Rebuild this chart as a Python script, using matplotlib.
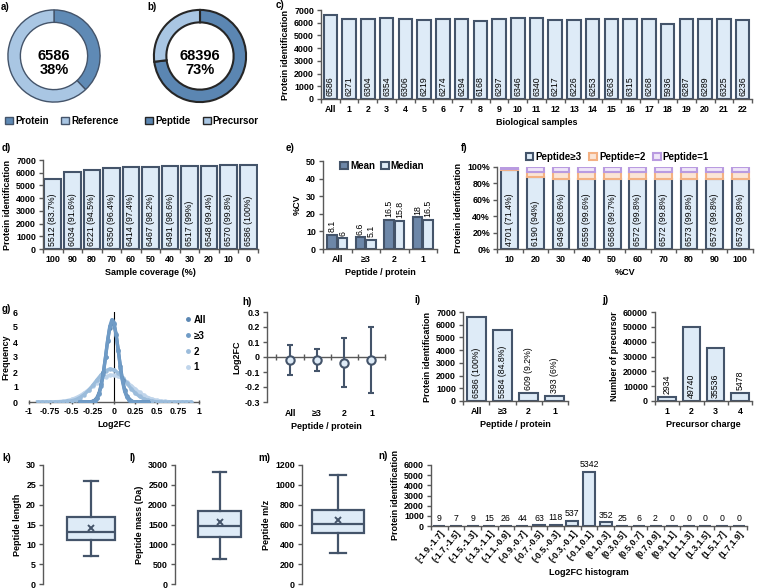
import numpy as np
import matplotlib
matplotlib.use("Agg")
import matplotlib.pyplot as plt
from matplotlib.patches import Patch
from matplotlib.lines import Line2D

plt.rcParams["font.family"] = ["Liberation Sans", "DejaVu Sans"]
plt.rcParams["font.weight"] = "bold"
plt.rcParams["axes.labelweight"] = "bold"
plt.rcParams["font.size"] = 6.5

# ---------------- data ----------------
donut_a_labels = ["Protein", "Reference"]
donut_a_values = [38, 62]
donut_a_total = "6586"
donut_b_labels = ["Peptide", "Precursor"]
donut_b_values = [73, 27]
donut_b_total = "68396"

samples = ["All"] + [str(i) for i in range(1, 23)]
sample_ids = [6586, 6271, 6304, 6354, 6306, 6219, 6274, 6294, 6168, 6297, 6346, 6340,
              6217, 6226, 6253, 6263, 6315, 6268, 5936, 6287, 6289, 6325, 6236]

coverage = ["100", "90", "80", "70", "60", "50", "40", "30", "20", "10", "0"]
coverage_ids = [5512, 6034, 6221, 6350, 6414, 6467, 6491, 6517, 6548, 6570, 6586]
coverage_pct = ["83.7%", "91.6%", "94.5%", "96.4%", "97.4%", "98.2%", "98.6%", "99%",
                "99.4%", "99.8%", "100%"]

pep_groups = ["All", "\u22653", "2", "1"]
cv_mean = [8.1, 6.6, 16.5, 18]
cv_median = [6, 5.1, 15.8, 16.5]

cv_bins = ["10", "20", "30", "40", "50", "60", "70", "80", "90", "100"]
cv_pep3 = [96.0, 87.5, 85.2, 84.9, 84.8, 84.8, 84.8, 84.8, 84.8, 84.8]
cv_pep2 = [1.8, 6.5, 8.8, 9.1, 9.2, 9.2, 9.2, 9.2, 9.2, 9.2]
cv_pep1 = [2.2, 6.0, 6.0, 6.0, 6.0, 6.0, 6.0, 6.0, 6.0, 6.0]
cv_counts = [4701, 6190, 6496, 6559, 6568, 6572, 6572, 6573, 6573, 6573]
cv_pct = ["71.4%", "94%", "98.6%", "99.6%", "99.7%", "99.8%", "99.8%", "99.8%", "99.8%", "99.8%"]

# g) Log2FC frequency curves
fc_x_narrow = [-0.4, -0.375, -0.35, -0.325, -0.3, -0.275, -0.25, -0.225, -0.2, -0.175, -0.15,
               -0.125, -0.1, -0.075, -0.05, -0.025, 0, 0.025, 0.05, 0.075, 0.1, 0.125, 0.15,
               0.175, 0.2, 0.225, 0.25, 0.275, 0.3, 0.325, 0.35, 0.375, 0.4]
fc_all = [0, 0, 0, 0, 0.01, 0.02, 0.05, 0.13, 0.30, 0.62, 1.17, 1.98, 3.00, 4.08, 4.94, 5.34,
          5.17, 4.47, 3.45, 2.38, 1.47, 0.82, 0.41, 0.18, 0.07, 0.03, 0.01, 0, 0, 0, 0, 0, 0]
fc_pep3 = [0, 0, 0, 0, 0, 0.01, 0.03, 0.10, 0.24, 0.54, 1.08, 1.90, 2.97, 4.11, 5.04, 5.49,
           5.29, 4.52, 3.43, 2.30, 1.37, 0.72, 0.34, 0.14, 0.05, 0.02, 0, 0, 0, 0, 0, 0, 0]
fc_x_wide = [-0.9, -0.85, -0.8, -0.75, -0.7, -0.65, -0.6, -0.55, -0.5, -0.45, -0.4, -0.35,
             -0.3, -0.25, -0.2, -0.15, -0.1, -0.05, 0, 0.05, 0.1, 0.15, 0.2, 0.25, 0.3, 0.35,
             0.4, 0.45, 0.5, 0.55, 0.6, 0.65, 0.7, 0.75, 0.8, 0.85, 0.9]
fc_pep2 = [0, 0, 0, 0, 0, 0.01, 0.02, 0.04, 0.08, 0.16, 0.30, 0.50, 0.77, 1.11, 1.48, 1.83,
           2.08, 2.20, 2.15, 1.94, 1.63, 1.26, 0.90, 0.60, 0.37, 0.21, 0.11, 0.05, 0.02, 0.01,
           0, 0, 0, 0, 0, 0, 0]
fc_pep1 = [0, 0, 0, 0.01, 0.02, 0.03, 0.06, 0.10, 0.17, 0.28, 0.42, 0.60, 0.81, 1.05, 1.30,
           1.52, 1.69, 1.78, 1.79, 1.71, 1.56, 1.34, 1.10, 0.86, 0.64, 0.45, 0.30, 0.19, 0.12,
           0.07, 0.04, 0.02, 0.01, 0, 0, 0, 0]

# h) Log2FC mean with range
fc_mean = [-0.02, -0.02, -0.04, -0.02]
fc_low = [-0.12, -0.09, -0.20, -0.24]
fc_high = [0.08, 0.055, 0.125, 0.20]

# i) / j)
pep_ids = [6586, 5584, 609, 393]
pep_pct = ["100%", "84.8%", "9.2%", "6%"]
charges = ["1", "2", "3", "4"]
precursors = [2934, 49740, 35536, 5478]

# k) l) m) box plots: whislo, q1, med, q3, whishi, mean
pep_length = [7, 11, 13, 17, 26, 14.2]
pep_mass = [620, 1190, 1470, 1850, 2820, 1570]
pep_mz = [315, 510, 610, 750, 1100, 650]

# n) Log2FC histogram
hist_bins = ["[-1.9,-1.7]", "(-1.7,-1.5]", "(-1.5,-1.3]", "(-1.3,-1.1]", "(-1.1,-0.9]",
             "(-0.9,-0.7]", "(-0.7,-0.5]", "(-0.5,-0.3]", "(-0.3,-0.1]", "(-0.1,0.1]",
             "(0.1,0.3]", "(0.3,0.5]", "(0.5,0.7]", "(0.7,0.9]", "(0.9,1.1]", "(1.1,1.3]",
             "(1.3,1.5]", "(1.5,1.7]", "(1.7,1.9]"]
hist_counts = [9, 7, 9, 15, 26, 44, 63, 118, 537, 5342, 352, 25, 6, 2, 0, 0, 0, 0, 0]

# ---------------- style ----------------
W, H = 760, 588
FILL = "#deebf7"
EDGE = "#44546a"
AXC = "#595959"
DARK = "#5f8ab5"
LIGHT = "#a9c6e3"
TICK_FS = 6.4
LAB_FS = 6.5
DATA_FS = 6.3
BAR_LW = 1.5


def px_axes(fig, left, top, right, bottom):
    return fig.add_axes([left / W, 1 - bottom / H, (right - left) / W, (bottom - top) / H])


def style(ax):
    for s in ("top", "right"):
        ax.spines[s].set_visible(False)
    for s in ("left", "bottom"):
        ax.spines[s].set_color(AXC)
        ax.spines[s].set_linewidth(1.0)
    ax.tick_params(labelsize=TICK_FS, color=AXC, length=3, width=1, pad=2)


def cat_axis(ax, labels):
    n = len(labels)
    ax.set_xlim(-0.5, n - 0.5)
    ax.set_xticks(range(n))
    ax.set_xticklabels(labels)
    ax.tick_params(axis="x", which="major", length=0, pad=4)
    ax.set_xticks(np.arange(n + 1) - 0.5, minor=True)
    ax.tick_params(axis="x", which="minor", length=3, color=AXC, width=1)


def base_label(ax, x, text):
    ax.annotate(text, (x, 0), xytext=(0, 2), textcoords="offset points", rotation=90,
                ha="center", va="bottom", fontsize=DATA_FS, fontweight="normal")


def top_label(ax, x, y, text, rotation=90):
    ax.annotate(text, (x, y), xytext=(0, 2), textcoords="offset points", rotation=rotation,
                ha="center", va="bottom", fontsize=DATA_FS, fontweight="normal")


def panel(fig, x, y, text):
    fig.text(x / W, 1 - y / H, text, fontsize=7, fontweight="bold", va="center")


fig = plt.figure(figsize=(7.6, 5.88), dpi=100)

# a) b) donuts
for box, vals, labels, total, cols, ec, lw, lx in [
        ((7, 9, 101, 103), donut_a_values, donut_a_labels, donut_a_total, [DARK, LIGHT], EDGE, 1.0, 62),
        ((153, 9, 247, 103), donut_b_values, donut_b_labels, donut_b_total, ["#5b86b2", LIGHT], "#262626", 1.5, 202)]:
    ax = px_axes(fig, *box)
    ax.pie(vals, colors=cols, startangle=90, counterclock=False, radius=1,
           wedgeprops=dict(width=0.27, edgecolor=ec, linewidth=lw))
    ax.set_xlim(-1.02, 1.02)
    ax.set_ylim(-1.02, 1.02)
    ax.text(0, 0.0, total, ha="center", va="center", fontsize=10.5, fontweight="bold")
    ax.text(0, -0.3, f"{vals[0]}%", ha="center", va="center", fontsize=10.5, fontweight="bold")
    handles = [Patch(facecolor=c, edgecolor=ec, linewidth=1) for c in cols]
    fig.legend(handles, labels, loc="center", bbox_to_anchor=(lx / W, 1 - 121 / H), ncol=2,
               frameon=False, fontsize=7, handlelength=0.8, handleheight=0.8,
               handletextpad=0.2, columnspacing=1.3)
panel(fig, 1, 7, "a)")
panel(fig, 147, 7, "b)")

# c) biological samples
ax = px_axes(fig, 321, 10, 752, 99)
style(ax)
ax.bar(range(len(sample_ids)), sample_ids, width=0.72, color=FILL, edgecolor=EDGE, linewidth=BAR_LW)
for i, v in enumerate(sample_ids):
    base_label(ax, i, str(v))
cat_axis(ax, samples)
ax.set_ylim(0, 7000)
ax.set_yticks(range(0, 7001, 1000))
ax.set_ylabel("Protein identification", fontsize=LAB_FS, labelpad=3)
ax.set_xlabel("Biological samples", fontsize=LAB_FS, labelpad=3)
panel(fig, 276, 5, "c)")

# d) sample coverage
ax = px_axes(fig, 43, 160, 258, 249)
style(ax)
ax.bar(range(len(coverage_ids)), coverage_ids, width=0.85, color=FILL, edgecolor=EDGE, linewidth=BAR_LW)
for i, (v, p) in enumerate(zip(coverage_ids, coverage_pct)):
    base_label(ax, i, f"{v} ({p})")
cat_axis(ax, coverage)
ax.set_ylim(0, 7000)
ax.set_yticks(range(0, 7001, 1000))
ax.set_ylabel("Protein identification", fontsize=LAB_FS, labelpad=3)
ax.set_xlabel("Sample coverage (%)", fontsize=LAB_FS, labelpad=3)
panel(fig, 2, 148, "d)")

# e) %CV mean / median
ax = px_axes(fig, 323, 161, 437, 249)
style(ax)
xs = np.arange(len(pep_groups))
ax.bar(xs - 0.19, cv_mean, width=0.33, color="#6d87a8", edgecolor=EDGE, linewidth=BAR_LW, label="Mean")
ax.bar(xs + 0.19, cv_median, width=0.33, color=FILL, edgecolor=EDGE, linewidth=BAR_LW, label="Median")
for i in range(len(pep_groups)):
    top_label(ax, i - 0.19, cv_mean[i], f"{cv_mean[i]:g}")
    top_label(ax, i + 0.19, cv_median[i], f"{cv_median[i]:g}")
cat_axis(ax, pep_groups)
ax.set_ylim(0, 50)
ax.set_yticks(range(0, 51, 10))
ax.set_ylabel("%CV", fontsize=LAB_FS, labelpad=3)
ax.set_xlabel("Peptide / protein", fontsize=LAB_FS, labelpad=3)
ax.legend(loc="upper center", bbox_to_anchor=(0.52, 1.1), ncol=2, frameon=False, fontsize=7,
          handlelength=0.8, handleheight=0.8, handletextpad=0.2, columnspacing=0.6)
panel(fig, 286, 148, "e)")

# f) %CV stacked
ax = px_axes(fig, 497, 167, 753, 249)
style(ax)
xs = np.arange(len(cv_bins))
ax.bar(xs, cv_pep3, width=0.65, color=FILL, edgecolor=EDGE, linewidth=BAR_LW, label="Peptide\u22653")
ax.bar(xs, cv_pep2, width=0.65, bottom=cv_pep3, color="#fbe5d6", edgecolor="#f4b183",
       linewidth=BAR_LW, label="Peptide=2")
ax.bar(xs, cv_pep1, width=0.65, bottom=np.add(cv_pep3, cv_pep2), color="#efe6f8",
       edgecolor="#b99be0", linewidth=BAR_LW, label="Peptide=1")
for i, (v, p) in enumerate(zip(cv_counts, cv_pct)):
    base_label(ax, i, f"{v} ({p})")
cat_axis(ax, cv_bins)
ax.set_ylim(0, 100)
ax.set_yticks(range(0, 101, 20))
ax.set_yticklabels([f"{v}%" for v in range(0, 101, 20)])
ax.set_ylabel("Protein identification", fontsize=LAB_FS, labelpad=3)
ax.set_xlabel("%CV", fontsize=LAB_FS, labelpad=3)
ax.legend(loc="lower center", bbox_to_anchor=(0.47, 1.0), ncol=3, frameon=False, fontsize=7,
          handlelength=0.8, handleheight=0.8, handletextpad=0.2, columnspacing=0.8,
          borderaxespad=0.1)
panel(fig, 461, 148, "f)")

# g) Log2FC frequency
ax = px_axes(fig, 29, 312, 199, 402)
style(ax)
ax.spines["left"].set_visible(False)
ax.axvline(0, color="black", lw=0.8, zorder=1)
g_colors = {"All": "#5b87b3", "\u22653": "#6f9bc6", "2": "#9bbcdb", "1": "#c0d5eb"}
ax.plot(fc_x_wide, fc_pep1, color=g_colors["1"], lw=2.4, marker="o", ms=2.2, zorder=2)
ax.plot(fc_x_wide, fc_pep2, color=g_colors["2"], lw=2.4, marker="o", ms=2.2, zorder=3)
ax.plot(fc_x_narrow, fc_all, color=g_colors["All"], lw=2.4, marker="o", ms=2.2, zorder=4)
ax.plot(fc_x_narrow, fc_pep3, color=g_colors["\u22653"], lw=2.4, marker="o", ms=2.2, zorder=5)
ax.set_xlim(-1, 1)
ax.set_ylim(0, 6)
gx = [-1, -0.75, -0.5, -0.25, 0, 0.25, 0.5, 0.75, 1]
ax.set_xticks(gx)
ax.set_xticklabels([f"{v:g}" for v in gx])
ax.tick_params(axis="x", direction="inout", length=3)
ax.set_yticks(range(0, 7))
ax.tick_params(axis="y", length=0, pad=8)
ax.set_ylabel("Frequency", fontsize=LAB_FS, labelpad=2)
ax.set_xlabel("Log2FC", fontsize=LAB_FS, labelpad=3)
g_handles = [Line2D([], [], ls="none", marker="o", ms=2.5, color=c) for c in g_colors.values()]
fig.legend(g_handles, list(g_colors.keys()), loc="upper left", bbox_to_anchor=(181 / W, 1 - 311 / H),
           frameon=False, fontsize=7, handlelength=0.6, handletextpad=0.3, labelspacing=0.6,
           borderaxespad=0)
panel(fig, 2, 309, "g)")

# h) Log2FC per group
ax = px_axes(fig, 267, 312, 385, 402)
style(ax)
xs = np.arange(len(pep_groups))
yerr = [np.subtract(fc_mean, fc_low), np.subtract(fc_high, fc_mean)]
ax.errorbar(xs, fc_mean, yerr=yerr, fmt="o", color=EDGE, mfc=FILL, mec=EDGE, ms=6, mew=1.5,
            elinewidth=1.5, capsize=2, capthick=1.5, zorder=3)
ax.set_xlim(-0.85, 3.5)
ax.set_ylim(-0.3, 0.3)
hy = [-0.3, -0.2, -0.1, 0, 0.1, 0.2, 0.3]
ax.set_yticks(hy)
ax.set_yticklabels([f"{v:g}" for v in hy])
ax.spines["bottom"].set_position(("data", 0))
ax.set_xticks(np.arange(len(pep_groups) + 1) - 0.5)
ax.set_xticklabels([])
ax.tick_params(axis="x", direction="inout", length=4)
sec = ax.secondary_xaxis(0)
sec.set_xticks(xs)
sec.set_xticklabels(pep_groups)
sec.spines["bottom"].set_visible(False)
sec.tick_params(axis="x", length=0, labelsize=TICK_FS, pad=5)
sec.set_xlabel("Peptide / protein", fontsize=LAB_FS, labelpad=3)
ax.set_ylabel("Log2FC", fontsize=LAB_FS, labelpad=2)
panel(fig, 242, 302, "h)")

# i) proteins per peptide group
ax = px_axes(fig, 463, 312, 568, 401)
style(ax)
ax.bar(range(len(pep_ids)), pep_ids, width=0.72, color=FILL, edgecolor=EDGE, linewidth=BAR_LW)
for i, (v, p) in enumerate(zip(pep_ids, pep_pct)):
    if v > 2000:
        base_label(ax, i, f"{v} ({p})")
    else:
        top_label(ax, i, v, f"{v} ({p})")
cat_axis(ax, pep_groups)
ax.set_ylim(0, 7000)
ax.set_yticks(range(0, 7001, 1000))
ax.set_ylabel("Protein identification", fontsize=LAB_FS, labelpad=3)
ax.set_xlabel("Peptide / protein", fontsize=LAB_FS, labelpad=3)
panel(fig, 414, 300, "i)")

# j) precursor charge
ax = px_axes(fig, 655, 312, 752, 401)
style(ax)
ax.bar(range(len(precursors)), precursors, width=0.73, color=FILL, edgecolor=EDGE, linewidth=BAR_LW)
for i, v in enumerate(precursors):
    if v > 20000:
        base_label(ax, i, str(v))
    else:
        top_label(ax, i, v, str(v))
cat_axis(ax, charges)
ax.set_ylim(0, 60000)
ax.set_yticks(range(0, 60001, 10000))
ax.set_ylabel("Number of precursor", fontsize=LAB_FS, labelpad=3)
ax.set_xlabel("Precursor charge", fontsize=LAB_FS, labelpad=3)
panel(fig, 602, 300, "j)")

# k) l) m) box plots
box_specs = [
    ((43, 465, 139, 584), pep_length, 1.0, 30, 5, "Peptide length", "k)", 2),
    ((175, 465, 264, 584), pep_mass, 0.97, 3000, 500, "Peptide mass (Da)", "l)", 129),
    ((302, 465, 374, 584), pep_mz, 1.44, 1200, 200, "Peptide m/z", "m)", 258),
]
for box, vals, width, ymax, step, ylabel, tag, tx in box_specs:
    ax = px_axes(fig, *box)
    style(ax)
    stats = [dict(whislo=vals[0], q1=vals[1], med=vals[2], q3=vals[3], whishi=vals[4],
                  mean=vals[5], fliers=[])]
    ax.bxp(stats, positions=[1], widths=[width], capwidths=[0.31 * width],
           showmeans=True, showfliers=False, patch_artist=True,
           boxprops=dict(facecolor=FILL, edgecolor=EDGE, linewidth=1.6),
           medianprops=dict(color=EDGE, linewidth=1.6),
           whiskerprops=dict(color=EDGE, linewidth=1.6),
           capprops=dict(color=EDGE, linewidth=1.6),
           meanprops=dict(marker="x", markeredgecolor=EDGE, markersize=4.5, markeredgewidth=1.4))
    ax.set_xlim(0, 2)
    ax.set_ylim(0, ymax)
    ax.set_yticks(range(0, ymax + 1, step))
    ax.spines["bottom"].set_visible(False)
    ax.set_xticks([])
    ax.set_ylabel(ylabel, fontsize=LAB_FS, labelpad=3)
    panel(fig, tx, 458, tag)

# n) Log2FC histogram
ax = px_axes(fig, 431, 465, 747, 526)
style(ax)
ax.bar(range(len(hist_counts)), hist_counts, width=0.72, color=FILL, edgecolor=EDGE, linewidth=BAR_LW)
for i, v in enumerate(hist_counts):
    top_label(ax, i, v, str(v), rotation=0)
cat_axis(ax, hist_bins)
for lab in ax.get_xticklabels():
    lab.set_rotation(50)
    lab.set_ha("right")
    lab.set_rotation_mode("anchor")
    lab.set_fontsize(6.3)
ax.tick_params(axis="x", which="major", pad=2)
ax.set_ylim(0, 6000)
ax.set_yticks(range(0, 6001, 1000))
ax.set_ylabel("Protein identification", fontsize=LAB_FS, labelpad=3)
ax.set_xlabel("Log2FC histogram", fontsize=LAB_FS, labelpad=3)
panel(fig, 378, 456, "n)")

fig.savefig("out.png", dpi=100)
